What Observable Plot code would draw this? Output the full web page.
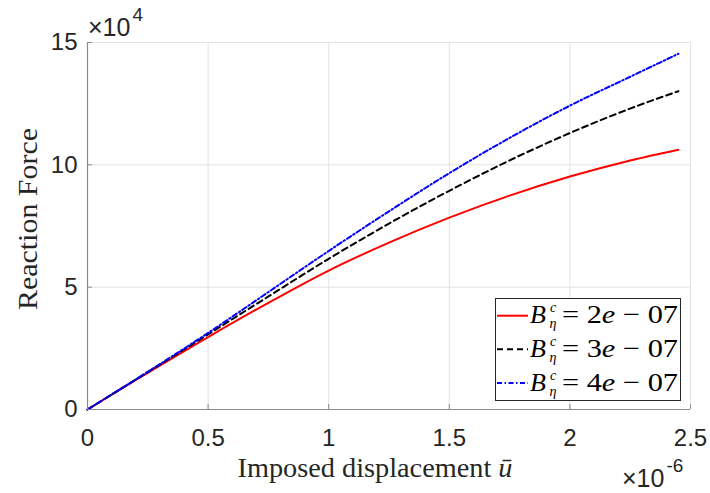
<!DOCTYPE html>
<html>
<head>
<meta charset="utf-8">
<script src="https://cdn.jsdelivr.net/npm/d3@7"></script>
<script src="https://cdn.jsdelivr.net/npm/@observablehq/plot@0.6"></script>
<style>
  html, body { margin: 0; padding: 0; background: #fff; }
  svg { display: block; }
</style>
</head>
<body>
<div id="chart"></div>
<script>
// Imposed displacement (units of 1e-6)
const displacement = [0, 0.1, 0.25, 0.5, 0.75, 1.0, 1.25, 1.5, 1.75, 2.0, 2.25, 2.45];
// Reaction force (units of 1e4)
const forceB2 = [0, 0.61, 1.50, 2.96, 4.36, 5.68, 6.82, 7.84, 8.74, 9.52, 10.18, 10.62];
const forceB3 = [0, 0.61, 1.53, 3.07, 4.62, 6.16, 7.60, 8.94, 10.18, 11.30, 12.30, 13.01];
const forceB4 = [0, 0.61, 1.54, 3.13, 4.80, 6.48, 8.10, 9.66, 11.10, 12.42, 13.60, 14.54];

const seriesNames = ["2e − 07", "3e − 07", "4e − 07"];
const seriesColors = ["#ff0000", "#000000", "#0000ff"];
const seriesDash = [null, "6,4", "5,2.5,1.5,2.5"];

const xTicks = [0, 0.5, 1, 1.5, 2, 2.5];
const xTickLabels = ["0", "0.5", "1", "1.5", "2", "2.5"];
const yTicks = [0, 5, 10, 15];
const yTickLabels = ["0", "5", "10", "15"];

const seriesValues = [forceB2, forceB3, forceB4];
const rows = [];
seriesValues.forEach((vals, s) => {
  displacement.forEach((x, i) => rows.push({series: s, x, y: vals[i]}));
});

const axisColor = "#8a8a8a";
const textColor = "#262626";
const gridColor = "#e3e3e3";

const chart = Plot.plot({
  width: 710,
  height: 493,
  marginLeft: 87,
  marginRight: 20,
  marginTop: 42,
  marginBottom: 84,
  style: {background: "#fff", fontFamily: "'Liberation Sans', Arial, sans-serif", overflow: "visible"},
  x: {domain: [0, 2.5]},
  y: {domain: [0, 15]},
  marks: [
    Plot.gridX(xTicks.slice(1), {stroke: gridColor, strokeOpacity: 1, strokeWidth: 1}),
    Plot.gridY(yTicks.slice(1), {stroke: gridColor, strokeOpacity: 1, strokeWidth: 1}),
    ...seriesValues.map((_, s) =>
      Plot.line(rows.filter(d => d.series === s), {
        x: "x", y: "y",
        stroke: seriesColors[s],
        strokeWidth: 2,
        strokeDasharray: seriesDash[s],
        curve: "monotone-x"
      })
    ),
    Plot.axisX(xTicks, {
      tickSize: -5, tickPadding: 24, stroke: axisColor,
      tickFormat: d => xTickLabels[xTicks.indexOf(d)],
      fontSize: 24, fill: textColor, label: null
    }),
    Plot.axisY(yTicks, {
      tickSize: -5, tickPadding: 15, stroke: axisColor,
      tickFormat: d => yTickLabels[yTicks.indexOf(d)],
      fontSize: 24, fill: textColor, label: null
    }),
    Plot.ruleY([0], {stroke: axisColor, strokeWidth: 1.2}),
    Plot.ruleX([0], {stroke: axisColor, strokeWidth: 1.2})
  ]
});

document.getElementById("chart").appendChild(chart);

const svg = d3.select(chart);
const serif = "'Liberation Serif', 'Times New Roman', serif";
const sans = "'Liberation Sans', Arial, sans-serif";

// Axis labels
const xl = svg.append("text")
  .attr("x", 375).attr("y", 477)
  .attr("text-anchor", "middle")
  .attr("font-family", serif).attr("font-size", 27).attr("fill", textColor)
  .attr("textLength", 275).attr("lengthAdjust", "spacingAndGlyphs");
xl.append("tspan").text("Imposed displacement ");
xl.append("tspan").attr("font-style", "italic").text("ū");

svg.append("text")
  .attr("transform", "translate(37,219) rotate(-90)")
  .attr("text-anchor", "middle")
  .attr("font-family", serif).attr("font-size", 27).attr("fill", textColor)
  .attr("textLength", 182).attr("lengthAdjust", "spacingAndGlyphs")
  .text("Reaction Force");

// Exponent labels
function exponent(x, y, exp) {
  const t = svg.append("text").attr("fill", textColor).attr("font-family", sans)
    .attr("text-anchor", "start").attr("x", x).attr("y", y).attr("font-size", 25);
  t.append("tspan").text("×10");
  t.append("tspan").attr("font-size", 19).attr("dy", -15).attr("dx", 2).text(exp);
}
exponent(88, 36, "4");
exponent(622, 487, "-6");

// Legend
const lg = svg.append("g").attr("text-anchor", "start");
lg.append("rect")
  .attr("x", 495.5).attr("y", 298.5).attr("width", 185).attr("height", 102)
  .attr("fill", "#fff").attr("stroke", "#262626").attr("stroke-width", 1);
const rowY = [315.7, 349.3, 383];
seriesNames.forEach((name, i) => {
  const y = rowY[i];
  lg.append("line")
    .attr("x1", 497).attr("x2", 528).attr("y1", y).attr("y2", y)
    .attr("stroke", seriesColors[i]).attr("stroke-width", 2)
    .attr("stroke-dasharray", seriesDash[i]);
  const t = lg.append("g").attr("font-family", serif).attr("fill", "#000");
  t.append("text").attr("x", 530).attr("y", y + 7.5).attr("font-size", 26)
    .attr("font-style", "italic").text("B");
  t.append("text").attr("x", 550).attr("y", y - 3.5).attr("font-size", 14)
    .attr("font-style", "italic").text("c");
  t.append("text").attr("x", 549.5).attr("y", y + 12.5).attr("font-size", 14)
    .attr("font-style", "italic").text("η");
  const parts = name.split("e");
  const rest = t.append("text").attr("x", 562).attr("y", y + 7.5).attr("font-size", 26)
    .attr("textLength", 116).attr("lengthAdjust", "spacingAndGlyphs");
  rest.append("tspan").text("= " + parts[0]);
  rest.append("tspan").attr("font-style", "italic").text("e");
  rest.append("tspan").text(parts[1]);
});
</script>
</body>
</html>
